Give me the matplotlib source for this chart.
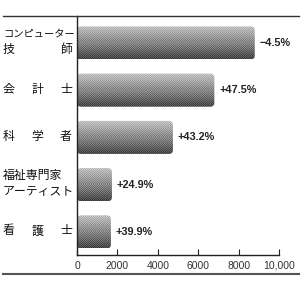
import matplotlib
matplotlib.use("Agg")
import matplotlib.pyplot as plt
import numpy as np
from matplotlib.patches import FancyBboxPatch
from matplotlib.lines import Line2D

plt.rcParams['font.family'] = ['Noto Sans CJK JP', 'DejaVu Sans']

categories = ["コンピューター\n技　師", "会　計　士", "科　学　者", "福祉専門家\nアーティスト", "看　護　士"]
values = [8800, 6800, 4750, 1730, 1680]
changes = ["−4.5%", "+47.5%", "+43.2%", "+24.9%", "+39.9%"]
xticks = [0, 2000, 4000, 6000, 8000, 10000]
xticklabels = ["0", "2000", "4000", "6000", "8000", "10,000"]

W, H = 302, 285
fig = plt.figure(figsize=(3.02, 2.85), dpi=100)
ax = fig.add_axes([77/W, 1-255/H, (279-77)/W, (255-16)/H])
ax.set_xlim(0, 10000)
ax.set_ylim(4.49, -0.57)

fig.canvas.draw()
renderer = fig.canvas.get_renderer()
p0 = ax.transData.transform((0, 0))
p1 = ax.transData.transform((1, 1))
xpp = 1 / abs(p1[0] - p0[0])
ypp = 1 / abs(p1[1] - p0[1])

latin = ['Liberation Sans', 'DejaVu Sans']

h = 0.70
for i, v in enumerate(values):
    y0 = i - h / 2
    nrow = max(int(round(h / ypp)), 2)
    ncol = max(int(round(v / xpp)), 2)
    t = np.linspace(0, 1, nrow)
    shade = 0.76 - 0.48 * t ** 1.1
    checker = (np.indices((nrow, ncol)).sum(axis=0) % 2) * 0.14 - 0.07
    img = np.clip(shade[:, None] + checker, 0, 1)
    patch = FancyBboxPatch((0, y0), v, h,
                           boxstyle=f"round,pad=0,rounding_size={4*xpp}",
                           mutation_aspect=ypp / xpp,
                           facecolor="none", edgecolor="none")
    ax.add_patch(patch)
    im = ax.imshow(img, cmap="gray", vmin=0, vmax=1, aspect="auto",
                   extent=(0, v, i + h / 2, y0), interpolation="nearest", zorder=2)
    im.set_clip_path(patch)
    ax.text(v + 5 * xpp, i, changes[i], va="center", ha="left",
            fontsize=7.8, fontweight="bold", family=latin, color="#222")

ax.set_xlim(0, 10000)
ax.set_ylim(4.49, -0.57)

for s in ["top", "right"]:
    ax.spines[s].set_visible(False)
for s in ["left", "bottom"]:
    ax.spines[s].set_linewidth(1.0)
    ax.spines[s].set_color("#222")
ax.set_yticks([])
ax.set_xticks(xticks)
ax.set_xticklabels(xticklabels, fontsize=7.5, family=latin)
ax.tick_params(axis="x", direction="in", length=4, width=0.8, pad=4, colors="#222", labelcolor="#333")

# category labels, justified between x=3 and x=72 px
xl, xr = 3, 72
fs = 8.6
for i, c in enumerate(categories):
    yc = ax.transData.transform((0, i))[1] + 1
    lines = c.split("\n")
    n = len(lines)
    for k, line in enumerate(lines):
        y = yc + ((n - 1) / 2 - k) * 16
        toks = [tk for tk in line.split("　") if tk]
        if len(toks) == 1:
            t = fig.text(xl / W, y / H, toks[0], ha="left", va="center", fontsize=fs, color="#111")
            bb = t.get_window_extent(renderer)
            if bb.width > (xr + 2 - xl):
                t.set_fontsize(fs * (xr + 2 - xl) / bb.width)
        else:
            m = len(toks)
            for j, tk in enumerate(toks):
                if j == 0:
                    fig.text(xl / W, y / H, tk, ha="left", va="center", fontsize=fs, color="#111")
                elif j == m - 1:
                    fig.text(xr / W, y / H, tk, ha="right", va="center", fontsize=fs, color="#111")
                else:
                    fig.text((xl + (xr - xl) * j / (m - 1)) / W, y / H, tk, ha="center",
                             va="center", fontsize=fs, color="#111")

fig.add_artist(Line2D([3/W, 299/W], [1-16/H, 1-16/H], color="#333", lw=1.0))
fig.add_artist(Line2D([3/W, 299/W], [1-274/H, 1-274/H], color="#555", lw=1.5))

fig.savefig("out.png", dpi=100)
